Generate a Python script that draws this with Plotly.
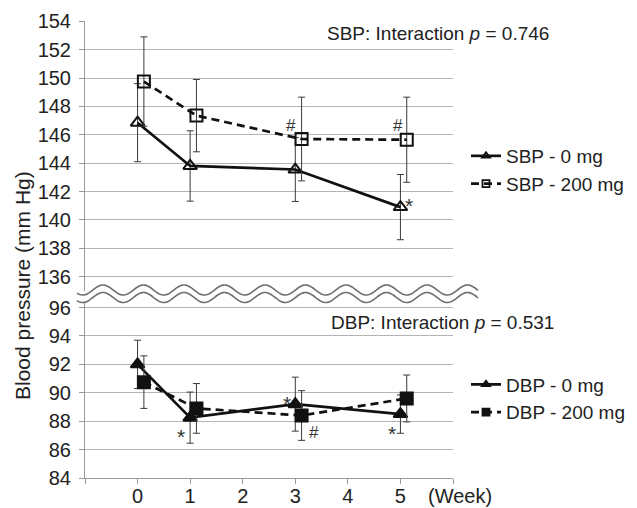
import numpy as np
import plotly.graph_objects as go

# ---------------- data ----------------
weeks = [0, 1, 3, 5]
sbp_0 = [146.85, 143.8, 143.55, 140.9]
sbp_0_err = [2.75, 2.48, 2.25, 2.3]
sbp_200 = [149.75, 147.35, 145.7, 145.65]
sbp_200_err = [3.15, 2.55, 2.95, 3.0]
dbp_0 = [92.0, 88.25, 89.2, 88.5]
dbp_0_err = [1.7, 1.8, 1.9, 1.35]
dbp_200 = [90.75, 88.9, 88.4, 89.6]
dbp_200_err = [1.85, 1.75, 1.75, 1.65]

x_tick_vals = [-1, 0, 1, 2, 3, 4, 5, 6]
x_tick_text = ["", "0", "1", "2", "3", "4", "5", ""]
sbp_ticks = list(range(136, 156, 2))
dbp_ticks = list(range(84, 98, 2))

sbp_title = "SBP: Interaction <i>p</i> = 0.746"
dbp_title = "DBP: Interaction <i>p</i> = 0.531"
y_title = "Blood pressure (mm Hg)"
x_unit = "(Week)"

# significance marks: (text, series, index, xshift, yshift)
sbp_marks = [("#", "s200", 2, -11, 14), ("#", "s200", 3, -9, 14), ("*", "s0", 3, 9, 2)]
dbp_marks = [("*", "d0", 1, -9, -19), ("*", "d0", 2, -8, 1), ("#", "d200", 2, 12, -17), ("*", "d0", 3, -8, -19)]

# ---------------- layout helpers ----------------
W, H = 637, 508
FONT = "Liberation Sans, Arial, sans-serif"
OFFSET = 0.12  # horizontal offset of 200 mg series


def px(x):
    return x / W


def py(y):
    return 1 - y / H


x0_px, x1_px = 85, 453
top_dom = [py(290.8), py(21)]
bot_dom = [py(478), py(296.2)]

series = {
    "s0": ([w for w in weeks], sbp_0, "y2", "x2"),
    "s200": ([w + OFFSET for w in weeks], sbp_200, "y2", "x2"),
    "d0": ([w for w in weeks], dbp_0, "y", "x"),
    "d200": ([w + OFFSET for w in weeks], dbp_200, "y", "x"),
}

fig = go.Figure()

LW = 2.7
ERR = dict(type="data", thickness=1, width=3.5, color="#3a3a3a")


def add(key, err, name, dash, symbol, xa, ya, legend):
    xs, ys, _, _ = series[key]
    fig.add_trace(go.Scatter(
        x=xs, y=ys, mode="lines+markers", xaxis=xa, yaxis=ya, showlegend=False,
        line=dict(color="#111", width=LW, dash=dash),
        marker=dict(symbol=symbol, size=12, color="#111", line=dict(color="#111", width=2)),
        error_y=dict(array=err, **ERR), cliponaxis=False, hoverinfo="skip",
    ))
    # legend-only entry with smaller symbol
    fig.add_trace(go.Scatter(
        x=[None], y=[None], mode="lines+markers", name=name, xaxis=xa, yaxis=ya,
        legend=legend,
        line=dict(color="#111", width=LW, dash=dash),
        marker=dict(symbol=symbol, size=7, color="#111", line=dict(color="#111", width=1.8)),
    ))


DASH = "8px,5px"
add("s0", sbp_0_err, "SBP - 0 mg", "solid", "triangle-up-open", "x2", "y2", "legend")
add("s200", sbp_200_err, "SBP - 200 mg", DASH, "square-open", "x2", "y2", "legend")
add("d0", dbp_0_err, "DBP - 0 mg", "solid", "triangle-up", "x", "y", "legend2")
add("d200", dbp_200_err, "DBP - 200 mg", DASH, "square", "x", "y", "legend2")

annotations = []
for text, key, i, dx, dy in sbp_marks + dbp_marks:
    xs, ys, ya, xa = series[key]
    annotations.append(dict(
        text=text, x=xs[i], y=ys[i], xref=xa, yref=ya, showarrow=False,
        xshift=dx, yshift=dy,
        font=dict(family=FONT, size=21 if text == "*" else 17, color="#333"),
    ))

annotations += [
    dict(text=sbp_title, x=px(325), y=py(33), xref="paper", yref="paper", xanchor="left",
         yanchor="middle", showarrow=False, font=dict(family=FONT, size=19, color="#222")),
    dict(text=dbp_title, x=px(329), y=py(322), xref="paper", yref="paper", xanchor="left",
         yanchor="middle", showarrow=False, font=dict(family=FONT, size=19, color="#222")),
    dict(text=y_title, x=px(22), y=py(286), xref="paper", yref="paper", textangle=-90,
         xanchor="center", yanchor="middle", showarrow=False,
         font=dict(family=FONT, size=21, color="#222")),
    dict(text=x_unit, x=px(460), y=py(496), xref="paper", yref="paper", xanchor="center",
         yanchor="middle", showarrow=False, font=dict(family=FONT, size=20, color="#222")),
]

# axis break: two wavy lines with white band
xs_w = np.arange(77, 479, 1.0)
phase = np.cos(2 * np.pi * (xs_w - 103) / 40.5)
up = 290 - 5 * phase
lo = 297.5 - 5 * phase


def path_of(xp, yp):
    return "M " + " L ".join(f"{px(a):.5f},{py(b):.5f}" for a, b in zip(xp, yp))


band = path_of(np.concatenate([xs_w, xs_w[::-1]]), np.concatenate([up, lo[::-1]])) + " Z"
shapes = [
    dict(type="path", path=band, xref="paper", yref="paper", fillcolor="white",
         line=dict(width=0), layer="above"),
    dict(type="path", path=path_of(xs_w, up), xref="paper", yref="paper",
         line=dict(color="#6e6e6e", width=1.6), layer="above"),
    dict(type="path", path=path_of(xs_w, lo), xref="paper", yref="paper",
         line=dict(color="#6e6e6e", width=1.6), layer="above"),
]

GRID = "#b4b4b4"
AX = "#9a9a9a"
tickfont = dict(family=FONT, size=20, color="#222")

fig.update_layout(
    width=W, height=H, autosize=False,
    margin=dict(l=0, r=0, t=0, b=0, pad=0, autoexpand=False),
    paper_bgcolor="white", plot_bgcolor="white",
    font=dict(family=FONT, color="#222"),
    hovermode=False,
    xaxis=dict(domain=[px(x0_px), px(x1_px)], anchor="y", range=[-1, 6],
               tickmode="array", tickvals=x_tick_vals, ticktext=x_tick_text,
               ticks="outside", ticklen=5, tickcolor=AX, showline=True, linecolor=AX,
               showgrid=False, zeroline=False, tickfont=tickfont, automargin=False,
               ticklabelstandoff=-5),
    xaxis2=dict(domain=[px(x0_px), px(x1_px)], anchor="y2", range=[-1, 6], matches="x",
                showticklabels=False, showgrid=False, zeroline=False, showline=False, ticks="",
                automargin=False),
    yaxis=dict(domain=bot_dom, anchor="x", range=[84, 96.8], tickmode="array",
               tickvals=dbp_ticks, ticks="outside", ticklen=5, tickcolor=AX,
               showline=True, linecolor=AX, showgrid=True, gridcolor=GRID, gridwidth=1,
               zeroline=False, tickfont=tickfont, ticklabelstandoff=4, automargin=False),
    yaxis2=dict(domain=top_dom, anchor="x2", range=[135, 154.02], tickmode="array",
                tickvals=sbp_ticks, ticks="outside", ticklen=5, tickcolor=AX,
                showline=True, linecolor=AX, showgrid=True, gridcolor=GRID, gridwidth=1,
                zeroline=False, tickfont=tickfont, ticklabelstandoff=4, automargin=False),
    legend=dict(x=px(466), y=py(137), xanchor="left", yanchor="top",
                font=dict(family=FONT, size=19, color="#222"), bgcolor="rgba(0,0,0,0)",
                tracegroupgap=0, itemwidth=30),
    legend2=dict(x=px(466), y=py(365.5), xanchor="left", yanchor="top",
                 font=dict(family=FONT, size=19, color="#222"), bgcolor="rgba(0,0,0,0)",
                 tracegroupgap=0, itemwidth=30),
    annotations=annotations,
    shapes=shapes,
)

fig.write_html("out.html", post_script="document.body.style.margin='0px';",
               config={"displayModeBar": False})
